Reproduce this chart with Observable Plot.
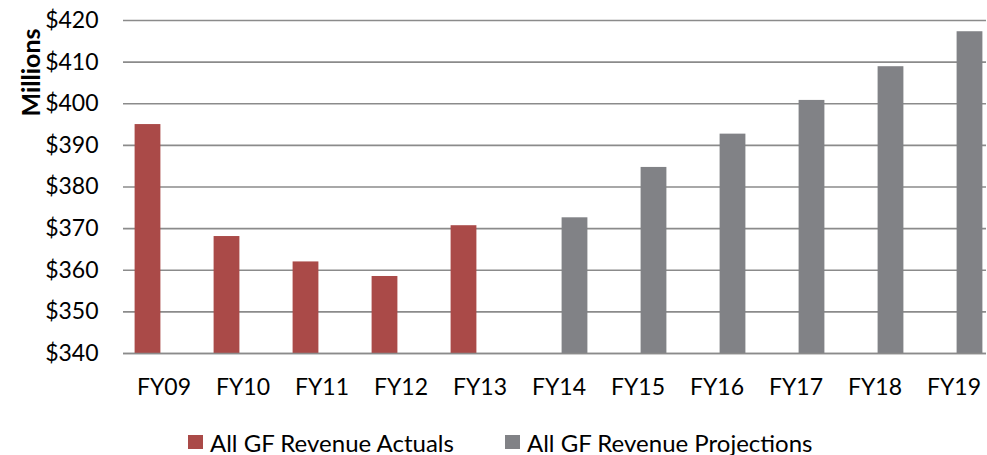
<!DOCTYPE html>
<html>
<head>
<meta charset="utf-8">
<script src="https://cdn.jsdelivr.net/npm/d3@7"></script>
<script src="https://cdn.jsdelivr.net/npm/@observablehq/plot@0.6"></script>
<style>
  html, body { margin: 0; padding: 0; background: #fff; }
  #chart { position: relative; width: 987px; height: 455px; font-family: Lato, "Noto Sans", sans-serif; }
  #legend { position: absolute; left: 0; top: 428px; width: 987px; height: 28px; font-size: 24px; color: #000; }
  .item { position: absolute; top: 0; display: flex; align-items: center; height: 28px; }
  .sw { width: 15px; height: 14px; margin-right: 7px; }
</style>
</head>
<body>
<div id="chart"><div id="legend"></div></div>
<script>
const years = ["FY09","FY10","FY11","FY12","FY13","FY14","FY15","FY16","FY17","FY18","FY19"];
const actualYears = ["FY09","FY10","FY11","FY12","FY13"];
const actuals = [395.0, 368.1, 362.0, 358.5, 370.7];
const projectionYears = ["FY14","FY15","FY16","FY17","FY18","FY19"];
const projections = [372.6, 384.7, 392.7, 400.8, 408.9, 417.3];
const yTicks = [340, 350, 360, 370, 380, 390, 400, 410, 420];
const seriesNames = ["All GF Revenue Actuals", "All GF Revenue Projections"];
const seriesColors = ["#AA4A48", "#818286"];
const yTitle = ["Millions"];

const actualRows = actualYears.map((year, i) => ({year, value: actuals[i]}));
const projectionRows = projectionYears.map((year, i) => ({year, value: projections[i]}));

const plot = Plot.plot({
  width: 987,
  height: 410,
  marginLeft: 123,
  marginRight: 1,
  marginTop: 20,
  marginBottom: 57,
  style: {fontFamily: "Lato, 'Noto Sans', sans-serif", fontSize: "23px", color: "#000", background: "#fff"},
  x: {domain: years, padding: 0, range: [122.4, 993.6], tickSize: 0, tickPadding: 25, label: null},
  y: {domain: [340, 420], ticks: yTicks, tickFormat: d => `$${d}`, tickSize: 0, tickPadding: 25, label: null},
  marks: [
    Plot.ruleY(yTicks, {stroke: "#8b8b8b", strokeWidth: 1.6}),
    Plot.barY(actualRows, {x: "year", y1: 340, y2: "value", fill: seriesColors[0], insetLeft: 10.6, insetRight: 42.6}),
    Plot.barY(projectionRows, {x: "year", y1: 340, y2: "value", fill: seriesColors[1], insetLeft: 42.6, insetRight: 10.6}),
    Plot.ruleY([340], {stroke: "#8b8b8b", strokeWidth: 1.6}),
    Plot.text(yTitle, {text: d => d, frameAnchor: "top-left", rotate: -90, dx: -101, dy: 52, textAnchor: "middle", fontWeight: "bold", fontSize: 25, fill: "#000"})
  ]
});
document.getElementById("chart").insertBefore(plot, document.getElementById("legend"));

const legend = document.getElementById("legend");
const lefts = [188, 505];
seriesNames.forEach((name, i) => {
  const item = document.createElement("div");
  item.className = "item";
  item.style.left = lefts[i] + "px";
  const sw = document.createElement("div");
  sw.className = "sw";
  sw.style.background = seriesColors[i];
  const label = document.createElement("span");
  label.textContent = name;
  item.appendChild(sw);
  item.appendChild(label);
  legend.appendChild(item);
});
</script>
</body>
</html>
